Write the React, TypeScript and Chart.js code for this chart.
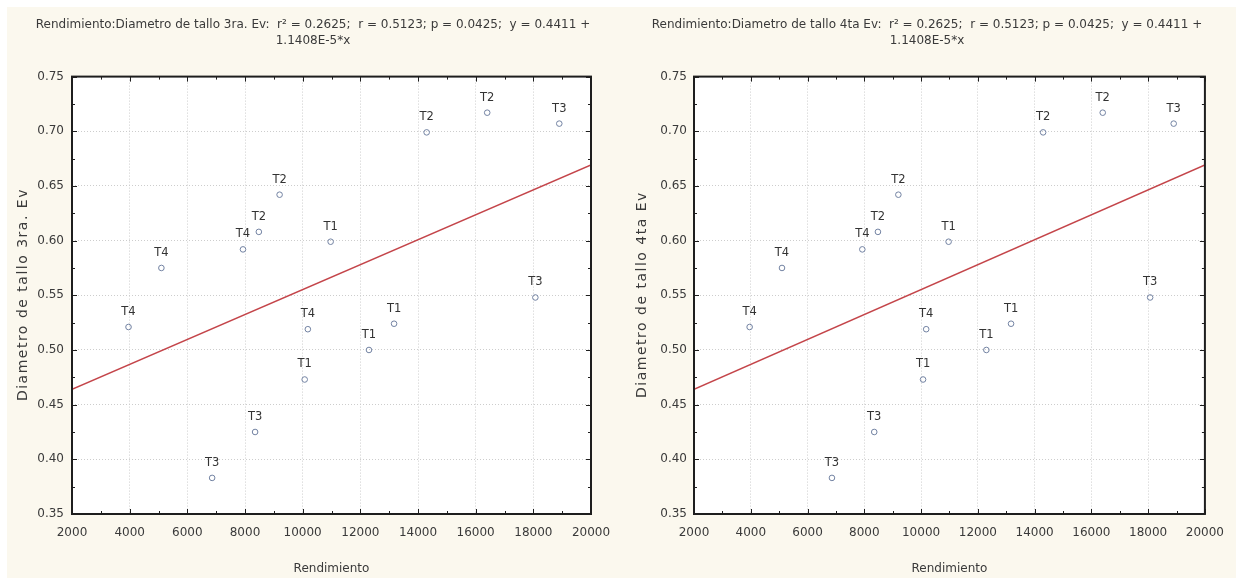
import React, { useEffect, useRef } from "react";
import { Chart, registerables } from "chart.js";

Chart.register(...registerables);

// ---- Data ----
const rendimiento = [16400, 18900, 14300, 9200, 8480, 7930, 10970, 5100, 18070, 3960, 13170, 10180, 12300, 10070, 8350, 6860];
const diametro = [0.717, 0.707, 0.699, 0.642, 0.608, 0.592, 0.599, 0.575, 0.548, 0.521, 0.524, 0.519, 0.5, 0.473, 0.425, 0.383];
const tratamientos = ["T2", "T3", "T2", "T2", "T2", "T4", "T1", "T4", "T3", "T4", "T1", "T4", "T1", "T1", "T3", "T3"];

const intercept = 0.4411;
const slope = 1.1408e-5;

const xRange = [2000, 20000];
const yRange = [0.35, 0.75];
const xStep = 2000;
const yStep = 0.05;

const titleLeft = [
  "Rendimiento:Diametro de tallo 3ra. Ev:  r² = 0.2625;  r = 0.5123; p = 0.0425;  y = 0.4411 +",
  "1.1408E-5*x",
];
const titleRight = [
  "Rendimiento:Diametro de tallo 4ta Ev:  r² = 0.2625;  r = 0.5123; p = 0.0425;  y = 0.4411 +",
  "1.1408E-5*x",
];
const yTitleLeft = "Diametro de tallo 3ra. Ev";
const yTitleRight = "Diametro de tallo 4ta Ev";
const xTitle = "Rendimiento";

const FONT = "'DejaVu Sans', Verdana, sans-serif";
const TEXT = "#3a3a3a";
const CREAM = "#fbf8ee";

const bgPlugin = {
  id: "bgPlugin",
  beforeDraw(chart: any) {
    const { ctx, chartArea, width, height } = chart;
    ctx.save();
    ctx.fillStyle = CREAM;
    ctx.fillRect(0, 0, width, height);
    ctx.fillStyle = "#ffffff";
    ctx.fillRect(chartArea.left, chartArea.top, chartArea.right - chartArea.left, chartArea.bottom - chartArea.top);
    ctx.restore();
  },
};

const framePlugin = {
  id: "framePlugin",
  afterDraw(chart: any) {
    const { ctx, chartArea } = chart;
    const xs = chart.scales.x;
    const ys = chart.scales.y;
    ctx.save();
    ctx.strokeStyle = "#1e1e1e";
    ctx.lineWidth = 1;
    ctx.beginPath();
    let k = 0;
    for (let v = xRange[0]; v <= xRange[1] + 1e-9; v += xStep / 2, k++) {
      const px = Math.round(xs.getPixelForValue(v)) + 0.5;
      const len = k % 2 === 0 ? 5 : 3;
      ctx.moveTo(px, chartArea.bottom);
      ctx.lineTo(px, chartArea.bottom - len);
      ctx.moveTo(px, chartArea.top);
      ctx.lineTo(px, chartArea.top + len);
    }
    k = 0;
    for (let v = yRange[0]; v <= yRange[1] + 1e-9; v += yStep / 2, k++) {
      const py = Math.round(ys.getPixelForValue(v)) + 0.5;
      const len = k % 2 === 0 ? 5 : 3;
      ctx.moveTo(chartArea.left, py);
      ctx.lineTo(chartArea.left + len, py);
      ctx.moveTo(chartArea.right, py);
      ctx.lineTo(chartArea.right - len, py);
    }
    ctx.stroke();
    ctx.lineWidth = 2;
    ctx.strokeRect(chartArea.left, chartArea.top, chartArea.right - chartArea.left, chartArea.bottom - chartArea.top);
    ctx.restore();
  },
};

const labelPlugin = {
  id: "labelPlugin",
  afterDatasetsDraw(chart: any) {
    const { ctx } = chart;
    const meta = chart.getDatasetMeta(1);
    ctx.save();
    ctx.fillStyle = "#333333";
    ctx.font = `11.5px ${FONT}`;
    ctx.textAlign = "center";
    ctx.textBaseline = "middle";
    meta.data.forEach((el: any, i: number) => {
      ctx.fillText(tratamientos[i], el.x, el.y - 15);
    });
    ctx.restore();
  },
};

// Rotated y-axis title, drawn a little wider like the reference.
const yTitlePlugin = {
  id: "yTitlePlugin",
  afterDraw(chart: any, _args: any, opts: any) {
    const { ctx, chartArea } = chart;
    const spacing = 1.5;
    ctx.save();
    ctx.translate(opts.x, (chartArea.top + chartArea.bottom) / 2);
    ctx.rotate(-Math.PI / 2);
    ctx.font = `14px ${FONT}`;
    ctx.fillStyle = TEXT;
    ctx.textAlign = "center";
    ctx.textBaseline = "middle";
    try {
      (ctx as any).letterSpacing = `${spacing}px`;
    } catch (e) {}
    ctx.fillText(opts.text, spacing / 2, 0);
    ctx.restore();
  },
};

type PanelProps = {
  left: number;
  width: number;
  title: string[];
  yTitle: string;
  yWidth: number;
  padLeft: number;
  padRight: number;
  yTitleX: number;
  yTickPad: number;
};

function Panel({ left, width, title, yTitle, yWidth, padLeft, padRight, yTitleX, yTickPad }: PanelProps) {
  const ref = useRef<HTMLCanvasElement | null>(null);
  const height = 571;

  useEffect(() => {
    if (!ref.current) return;
    const tickFont = { family: FONT, size: 12 };
    const chart = new Chart(ref.current, {
      type: "scatter",
      data: {
        datasets: [
          {
            type: "line",
            data: xRange.map((x) => ({ x, y: intercept + slope * x })),
            borderColor: "#c4454a",
            borderWidth: 1.5,
            pointRadius: 0,
            fill: false,
          } as any,
          {
            type: "scatter",
            data: rendimiento.map((x, i) => ({ x, y: diametro[i] })),
            pointStyle: "circle",
            pointRadius: 2.8,
            borderColor: "#7383a3",
            backgroundColor: "rgba(0,0,0,0)",
            borderWidth: 1,
          },
        ],
      },
      options: {
        animation: false,
        responsive: false,
        maintainAspectRatio: false,
        layout: { padding: { left: padLeft, right: padRight, top: 0, bottom: 0 } },
        plugins: {
          legend: { display: false },
          tooltip: { enabled: false },
          title: {
            display: true,
            text: title,
            color: TEXT,
            font: { family: FONT, size: 12, weight: "normal", lineHeight: 1.4 },
            padding: { top: 9, bottom: 27 },
          },
          yTitlePlugin: { text: yTitle, x: yTitleX },
        },
        scales: {
          x: {
            type: "linear",
            min: xRange[0],
            max: xRange[1],
            afterFit: (s: any) => {
              s.height = 64;
            },
            ticks: {
              stepSize: xStep,
              padding: 12,
              color: TEXT,
              font: tickFont,
              maxRotation: 0,
              autoSkip: false,
              callback: (v: any) => String(v),
            },
            grid: { color: "#cdcdcd", drawTicks: false, lineWidth: 1 },
            border: { display: false, dash: [1, 2] },
            title: {
              display: true,
              text: xTitle,
              color: TEXT,
              font: { family: FONT, size: 12 },
              padding: { top: 0, bottom: 2 },
            },
          },
          y: {
            type: "linear",
            min: yRange[0],
            max: yRange[1],
            afterFit: (s: any) => {
              s.width = yWidth;
            },
            ticks: {
              stepSize: yStep,
              padding: yTickPad,
              color: TEXT,
              font: tickFont,
              callback: (v: any) => Number(v).toFixed(2),
            },
            grid: { color: "#cdcdcd", drawTicks: false, lineWidth: 1 },
            border: { display: false, dash: [1, 2] },
            title: { display: false },
          },
        },
      } as any,
      plugins: [bgPlugin, framePlugin, labelPlugin, yTitlePlugin],
    });
    return () => chart.destroy();
  }, []);

  return (
    <canvas
      ref={ref}
      width={width}
      height={height}
      style={{ position: "absolute", left, top: 7, width, height, display: "block" }}
    />
  );
}

export default function App() {
  return (
    <div style={{ position: "absolute", left: 0, top: 0, width: 1236, height: 578, background: "#ffffff", overflow: "hidden" }}>
      <Panel left={7} width={616} title={titleLeft} yTitle={yTitleLeft} yWidth={37} padLeft={28} padRight={32} yTitleX={16} yTickPad={8} />
      <Panel left={623} width={613} title={titleRight} yTitle={yTitleRight} yWidth={53} padLeft={18} padRight={23} yTitleX={19} yTickPad={7} />
    </div>
  );
}
